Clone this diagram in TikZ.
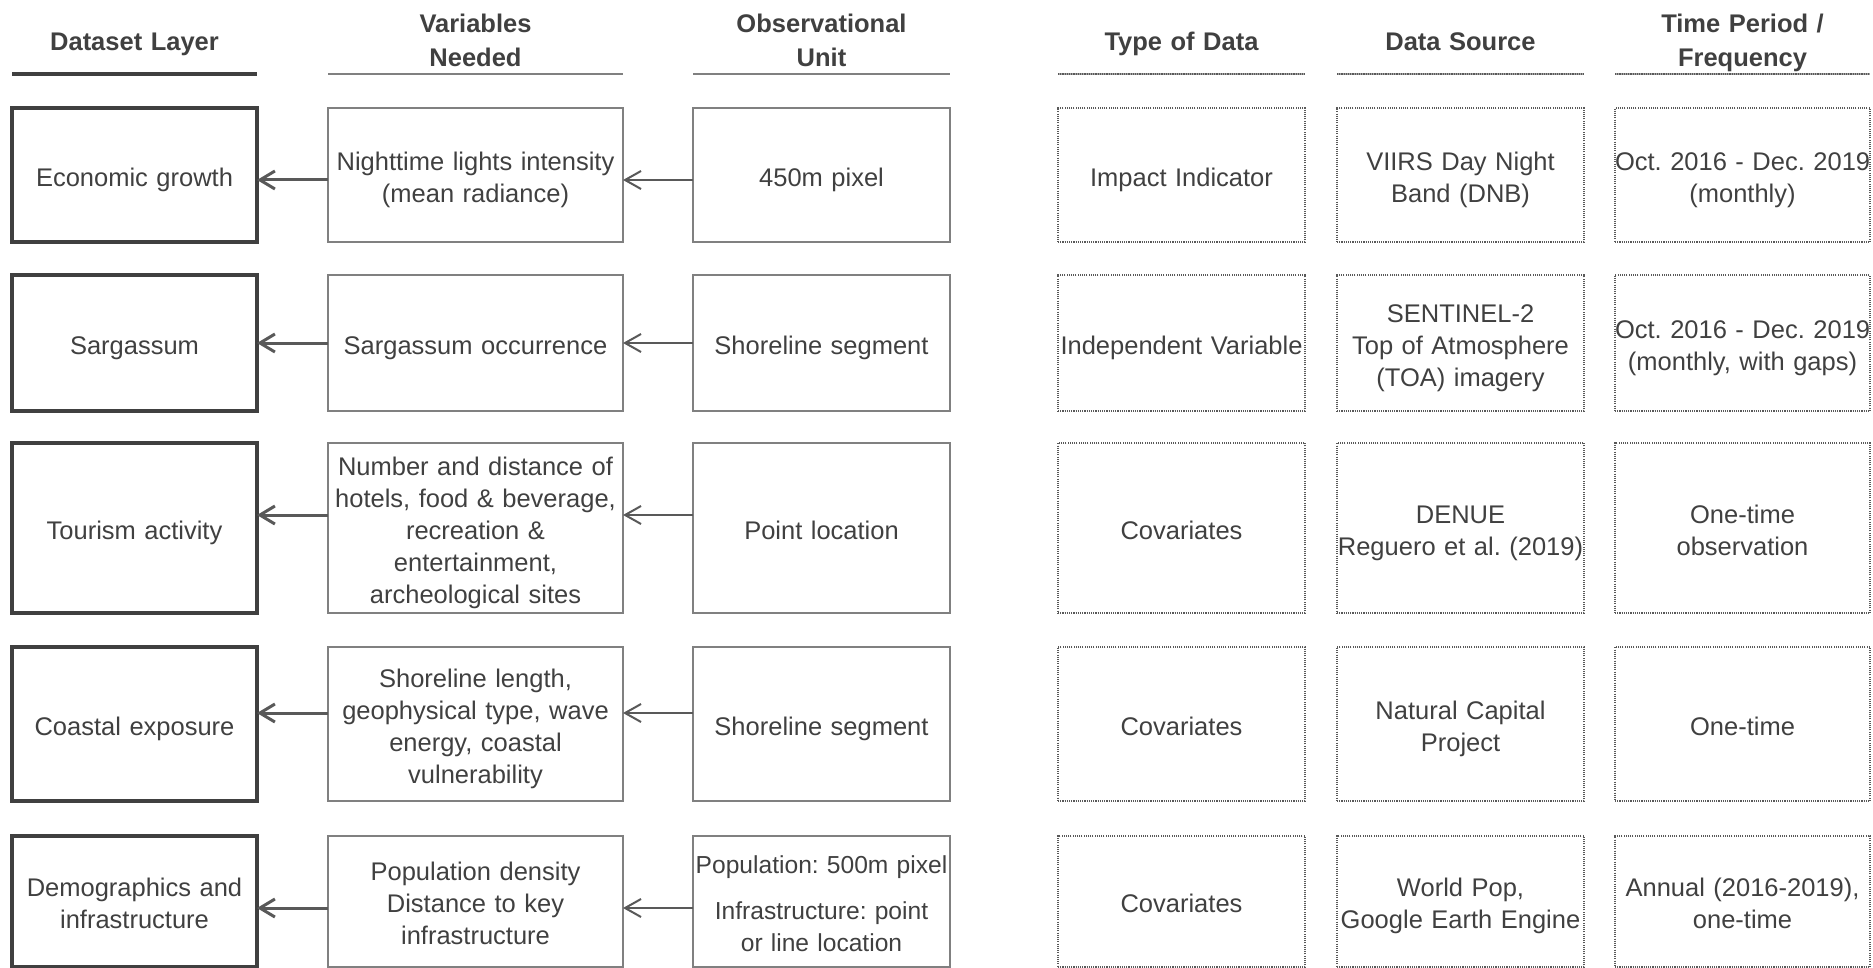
\documentclass[tikz,border=0pt]{standalone}
\usepackage{fontspec}
\setmainfont{Liberation Sans}
\usetikzlibrary{arrows.meta}

\definecolor{inkgray}{HTML}{404040}
\definecolor{boxgray}{HTML}{808080}
\definecolor{arrgray}{HTML}{595959}

\tikzset{
  every node/.style={font=\fontsize{12.75}{16}\selectfont\frenchspacing, text=inkgray, align=center, inner sep=0pt, outer sep=0pt,
    execute at begin node={\rule{0pt}{13.9pt}}, execute at end node={\rule[-2.7pt]{0pt}{0pt}}},
  hdr/.style={font=\fontsize{12.75}{17}\selectfont\bfseries},
  colA/.style={minimum width=122.5pt, text width=122.5pt},
  colB/.style={minimum width=147.5pt, text width=147.5pt},
  colC/.style={minimum width=128.5pt, text width=128.5pt},
  colD/.style={minimum width=123.5pt, text width=123.5pt},
  colE/.style={minimum width=127.5pt, text width=127.5pt},
  layer/.style={colA, draw=inkgray, line width=1.75pt},
  varbox/.style={colB, draw=boxgray, line width=1pt},
  unitbox/.style={colC, draw=boxgray, line width=1pt},
  infobox/.style={colD, draw=black!65, line width=1.1pt, dash pattern=on 0.55pt off 0.55pt,
    preaction={draw=black!35, line width=1.1pt}},
  dotline/.style={draw=black!65, line width=1.1pt, dash pattern=on 0.55pt off 0.55pt,
    preaction={draw=black!35, line width=1.1pt}},
  bigarrow/.style={draw=arrgray, line width=1.5pt, -{Straight Barb[length=7.5pt,width=9pt]}},
  smallarrow/.style={draw=arrgray, line width=1pt, -{Straight Barb[length=8pt,width=9pt]}},
}

\begin{document}
\begin{tikzpicture}[x=0.5pt, y=-0.5pt]
\useasboundingbox (0,0) rectangle (1873,968);

% column headings
\node[hdr, colA] (hd1) at (134.5,39) {Dataset Layer};
\node[hdr, colB] (hd2) at (475.5,38) {Variables\\Needed};
\node[hdr, colC] (hd3) at (821.5,38) {Observational\\Unit};
\node[hdr, colD] (hd4) at (1181.5,39) {Type of Data};
\node[hdr, colD] (hd5) at (1460.5,39) {Data Source};
\node[hdr, colE] (hd6) at (1742.5,38) {Time Period /\\Frequency};

\draw[inkgray, line width=1.75pt] (12,74) -- (257,74);
\draw[boxgray, line width=1pt] (328,74) -- (623,74);
\draw[boxgray, line width=1pt] (693,74) -- (950,74);
\path[dotline] (1058,74) -- (1305,74);
\path[dotline] (1337,74) -- (1584,74);
\path[dotline] (1615,74) -- (1870,74);

% row 1
\node[layer, minimum height=67pt] (lay1) at (134.5,175) {Economic growth};
\node[varbox, minimum height=67pt] (var1) at (475.5,175) {Nighttime lights intensity\\(mean radiance)};
\node[unitbox, minimum height=67pt] (unit1) at (821.5,175) {450m pixel};
\node[infobox, minimum height=67pt] (type1) at (1181.5,175) {Impact Indicator};
\node[infobox, minimum height=67pt] (src1) at (1460.5,175) {VIIRS Day Night\\Band (DNB)};
\node[infobox, colE, minimum height=67pt] (time1) at (1742.5,175) {\mbox{Oct. 2016 - Dec. 2019}\\(monthly)};

% row 2
\node[layer, minimum height=68pt] (lay2) at (134.5,343) {Sargassum};
\node[varbox, minimum height=68pt] (var2) at (475.5,343) {Sargassum occurrence};
\node[unitbox, minimum height=68pt] (unit2) at (821.5,343) {Shoreline segment};
\node[infobox, minimum height=68pt] (type2) at (1181.5,343) {\mbox{Independent Variable}};
\node[infobox, minimum height=68pt] (src2) at (1460.5,343) {SENTINEL-2\\Top of Atmosphere\\(TOA) imagery};
\node[infobox, colE, minimum height=68pt] (time2) at (1742.5,343) {\mbox{Oct. 2016 - Dec. 2019}\\(monthly, with gaps)};

% row 3
\node[layer, minimum height=85pt] (lay3) at (134.5,528) {Tourism activity};
\node[varbox, minimum height=85pt] (var3) at (475.5,528) {Number and distance of\\hotels, food \& beverage,\\recreation \&\\entertainment,\\archeological sites};
\node[unitbox, minimum height=85pt] (unit3) at (821.5,528) {Point location};
\node[infobox, minimum height=85pt] (type3) at (1181.5,528) {Covariates};
\node[infobox, minimum height=85pt] (src3) at (1460.5,528) {DENUE\\\mbox{Reguero et al. (2019)}};
\node[infobox, colE, minimum height=85pt] (time3) at (1742.5,528) {One-time\\observation};

% row 4
\node[layer, minimum height=77pt] (lay4) at (134.5,724) {Coastal exposure};
\node[varbox, minimum height=77pt] (var4) at (475.5,724) {Shoreline length,\\geophysical type, wave\\energy, coastal\\vulnerability};
\node[unitbox, minimum height=77pt] (unit4) at (821.5,724) {Shoreline segment};
\node[infobox, minimum height=77pt] (type4) at (1181.5,724) {Covariates};
\node[infobox, minimum height=77pt] (src4) at (1460.5,724) {Natural Capital\\Project};
\node[infobox, colE, minimum height=77pt] (time4) at (1742.5,724) {One-time};

% row 5
\node[layer, minimum height=65.5pt] (lay5) at (134.5,901.5) {Demographics and\\infrastructure};
\node[varbox, minimum height=65.5pt] (var5) at (475.5,901.5) {Population density\\Distance to key\\infrastructure};
\node[unitbox, minimum height=65.5pt, font=\fontsize{12.3}{16}\selectfont\frenchspacing] (unit5) at (821.5,901.5) {\mbox{Population: 500m pixel}\\[7pt]Infrastructure: point\\or line location};
\node[infobox, minimum height=65.5pt] (type5) at (1181.5,901.5) {Covariates};
\node[infobox, minimum height=65.5pt] (src5) at (1460.5,901.5) {World Pop,\\\mbox{Google Earth Engine}};
\node[infobox, colE, minimum height=65.5pt] (time5) at (1742.5,901.5) {Annual (2016-2019),\\one-time};

% arrows
\foreach \r/\s in {1/-2.5, 2/0, 3/6.5, 4/5.5, 5/-3.25} {
  \draw[bigarrow] ([yshift=\s pt]var\r.west) -- ([yshift=\s pt]lay\r.east);
  \draw[smallarrow] ([yshift=\s pt]unit\r.west) -- ([yshift=\s pt]var\r.east);
}
\end{tikzpicture}
\end{document}
